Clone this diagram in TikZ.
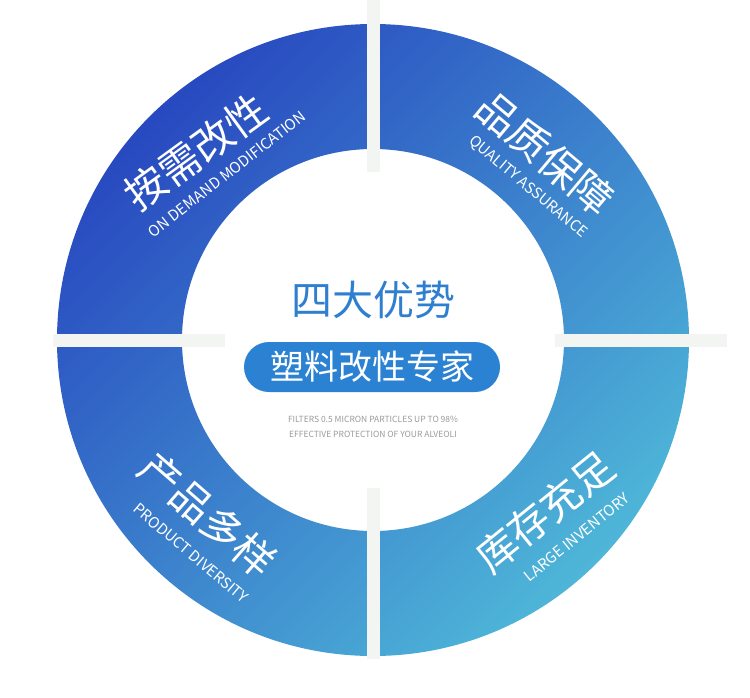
\documentclass[tikz,border=0pt]{standalone}
\usepackage{fontspec}
\newfontfamily\cjk{Noto Sans CJK SC}
\definecolor{ringA}{HTML}{2849C0}
\definecolor{ringB}{HTML}{4EB6D8}
\definecolor{barcol}{HTML}{F3F5F2}
\definecolor{titleblue}{HTML}{2F7FD0}
\definecolor{pillblue}{HTML}{2C82D2}
\definecolor{smallgray}{HTML}{9A9A9A}
\tikzset{
  cjkbig/.style={font=\cjk\fontsize{41}{41}\selectfont, text=white, inner sep=0pt},
  enlab/.style={font=\cjk\fontsize{15}{15}\selectfont, text=white, inner sep=0pt},
  bar/.style={fill=barcol, draw=none},
}
\begin{document}
\begin{tikzpicture}[x=1pt,y=-1pt]
\useasboundingbox (0,0) rectangle (750,697);
\fill[white] (0,0) rectangle (750,697);
% ring
\shade[top color=ringA, bottom color=ringB, shading angle=45, even odd rule]
  (373,340) circle[radius=316pt] (373,340) circle[radius=191pt];
\coordinate (c) at (373,340);
% bars
\fill[bar] (367,0) rectangle (380,172);
\fill[bar] (367,488) rectangle (380,659);
\fill[bar] (53,334) rectangle (225,347);
\fill[bar] (555,334) rectangle (727,347);
% center
\node[font=\cjk\fontsize{41}{41}\selectfont, text=titleblue, inner sep=0pt] (title) at (373,300) {四大优势};
\node[fill=pillblue, rounded corners=25pt, minimum width=256pt, minimum height=50pt, inner sep=0pt,
      font=\cjk\fontsize{34}{34}\selectfont, text=white] (pill) at (372,367) {塑料改性专家};
\node[font=\cjk\fontsize{8.5}{8.5}\selectfont, text=smallgray, inner sep=0pt] (s1) at (373,419) {FILTERS 0.5 MICRON PARTICLES UP TO 98\%};
\node[font=\cjk\fontsize{8.5}{8.5}\selectfont, text=smallgray, inner sep=0pt] (s2) at (373,434) {EFFECTIVE PROTECTION OF YOUR ALVEOLI};
% quadrant labels
\node[cjkbig, rotate=36] (q1) at (196,152) {按需改性};
\node[enlab, rotate=38] (q1e) at (227,174) {ON DEMAND MODIFICATION};
\node[cjkbig, rotate=-40] (q2) at (545,153) {品质保障};
\node[enlab, rotate=-40] (q2e) at (528,187) {QUALITY ASSURANCE};
\node[cjkbig, rotate=-41] (q3) at (208,515) {产品多样};
\node[enlab, rotate=-40] (q3e) at (191,553) {PRODUCT DIVERSITY};
\node[cjkbig, rotate=39] (q4) at (545,512) {库存充足};
\node[enlab, rotate=39] (q4e) at (577,537) {LARGE INVENTORY};
\end{tikzpicture}
\end{document}
